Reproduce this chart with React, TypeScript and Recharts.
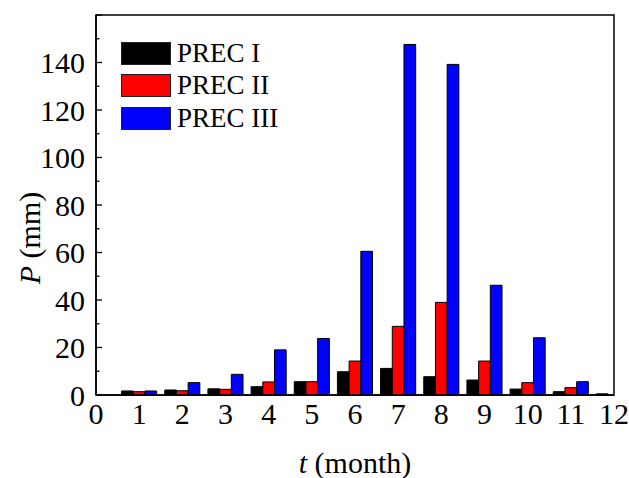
import * as React from 'react';
import {
    Bar,
    BarChart,
    Label,
    ReferenceArea,
    XAxis,
    YAxis,
} from 'recharts';

const months = [1, 2, 3, 4, 5, 6, 7, 8, 9, 10, 11, 12];
const precI = [1.7, 2.1, 2.6, 3.5, 5.6, 9.8, 11.2, 7.7, 6.3, 2.5, 1.4, 0.5];
const precII = [1.4, 1.8, 2.4, 5.5, 5.6, 14.3, 28.9, 39.0, 14.3, 5.2, 3.1, 0];
const precIII = [1.7, 5.2, 8.7, 19.0, 23.8, 60.5, 147.6, 139.2, 46.2, 24.1, 5.6, 0];

const xTicks = [0, 1, 2, 3, 4, 5, 6, 7, 8, 9, 10, 11, 12];
const yTicks = [0, 10, 20, 30, 40, 50, 60, 70, 80, 90, 100, 110, 120, 130, 140, 150, 160];

const seriesNames = ['PREC I', 'PREC II', 'PREC III'];
const seriesKeys = ['p1', 'p2', 'p3'];
const seriesColors = ['#000000', '#ff0000', '#0000ff'];

const data = months.map((m, i) => ({
    month: m,
    p1: precI[i],
    p2: precII[i],
    p3: precIII[i],
}));

const FONT = '"Liberation Serif", "Times New Roman", serif';

// y ticks drawn inward, labels only on every 20
function YTick(props: any) {
    const { x, y, payload } = props;
    const axisX = x + 11;
    const major = payload.value % 20 === 0;
    return (
        <g>
            <line x1={axisX} x2={axisX + (major ? 6 : 3.5)} y1={y} y2={y} stroke="#000" strokeWidth={1.3} />
            {major && payload.value < 160 && (
                <text x={x} y={y} dy="0.36em" textAnchor="end" fontSize={30} fontFamily={FONT} fill="#000">
                    {payload.value}
                </text>
            )}
        </g>
    );
}

function XLabel(props: any) {
    const { viewBox } = props;
    const cx = viewBox.x + viewBox.width / 2;
    return (
        <text x={cx} y={viewBox.y + 78} textAnchor="middle" fontSize={30} fontFamily={FONT} fill="#000">
            <tspan fontStyle="italic">t</tspan> (month)
        </text>
    );
}

function YLabel() {
    return (
        <text x={0} y={0} transform="translate(40, 238) rotate(-90)" textAnchor="middle" fontSize={30} fontFamily={FONT} fill="#000">
            <tspan fontStyle="italic">P</tspan> (mm)
        </text>
    );
}

function ChartLegend() {
    return (
        <div style={{ position: 'absolute', left: 121, top: 37, fontFamily: FONT }}>
            {seriesNames.map((name, i) => (
                <div key={name} style={{ display: 'flex', alignItems: 'center', height: 32.5 }}>
                    <div style={{ width: 48, height: 21, background: seriesColors[i], border: '1px solid #222' }} />
                    <span style={{ marginLeft: 6, fontSize: 27, color: '#000', lineHeight: '27px' }}>{name}</span>
                </div>
            ))}
        </div>
    );
}

export default function App() {
    return (
        <div style={{ position: 'absolute', left: 0, top: 0, width: 629, height: 478, background: '#fff' }}>
            <BarChart
                width={629}
                height={478}
                data={data}
                barSize={11.7}
                barGap={0}
                margin={{ top: 15, right: 15, left: 0, bottom: 0 }}
            >
                <XAxis
                    dataKey="month"
                    type="number"
                    domain={[0, 12]}
                    ticks={xTicks}
                    interval={0}
                    allowDataOverflow
                    height={83}
                    tickLine={false}
                    tickSize={0}
                    tickMargin={8}
                    axisLine={{ stroke: '#000', strokeWidth: 1.5 }}
                    tick={{ fontSize: 30, fontFamily: FONT, fill: '#000' }}
                >
                    <Label content={<XLabel />} />
                </XAxis>
                <YAxis
                    type="number"
                    domain={[0, 160]}
                    ticks={yTicks}
                    interval={0}
                    width={96}
                    tickLine={false}
                    tickSize={0}
                    tickMargin={11}
                    axisLine={{ stroke: '#000', strokeWidth: 1.5 }}
                    tick={<YTick />}
                >
                    <Label content={<YLabel />} />
                </YAxis>
                {seriesKeys.map((k, i) => (
                    <Bar
                        key={k}
                        dataKey={k}
                        name={seriesNames[i]}
                        fill={seriesColors[i]}
                        stroke="#000"
                        strokeWidth={1}
                        isAnimationActive={false}
                    />
                ))}
                <ReferenceArea x1={0} x2={12} y1={0} y2={160} fill="none" stroke="#000" strokeWidth={1.5} ifOverflow="visible" />
            </BarChart>
            <ChartLegend />
        </div>
    );
}
